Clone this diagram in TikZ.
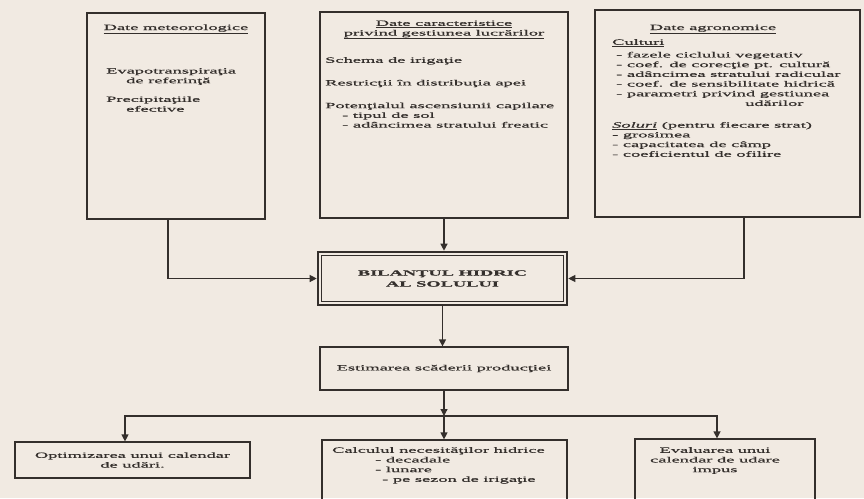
\documentclass[tikz,border=0pt]{standalone}
\usepackage{fontspec}
\setmainfont{Liberation Serif}[FakeStretch=2.3, FakeBold=0.7]
\usetikzlibrary{arrows.meta,positioning}

\definecolor{paper}{RGB}{241,234,226}
\definecolor{ink}{RGB}{52,47,44}

\begin{document}
\begin{tikzpicture}[
    x=1pt, y=-1pt,
    box/.style={draw=ink, line width=1.2pt, inner sep=0pt},
    txt/.style={inner sep=0pt, align=left},
    link/.style={draw=ink, line width=1.2pt},
    flow/.style={link, -{Triangle[length=7pt, width=7pt]}},
    every node/.style={color=ink, font=\fontsize{8}{9.7}\selectfont}
    ]

    % page
    \fill[paper] (0,0) rectangle (864,498);
    \useasboundingbox (0,0) rectangle (864,498);
    \clip (0,0) rectangle (864,498);

    % input data
    \node[box, minimum width=178pt, minimum height=206pt] (meteo) at (176,116) {};
    \node[box, minimum width=248pt, minimum height=206pt] (gest) at (444,115) {};
    \node[box, minimum width=265pt, minimum height=207pt] (agro) at (727.5,113.5) {};

    \node[anchor=base] (meteo title) at (176,30) {\underline{Date meteorologice}};
    \node[txt, anchor=north west] (meteo text) at (106,68) {Evapotranspiraţia\\\hspace{20pt}de referinţă\\[9pt]Precipitaţiile\\\hspace{20pt}efective};

    \node[anchor=north, align=center] (gest title) at (444,17) {\underline{Date caracteristice}\\\underline{privind gestiunea lucrărilor}};
    \node[txt, anchor=north west] (gest text) at (325,57) {Schema de irigaţie\\[13pt]Restricţii în distribuţia apei\\[13pt]Potenţialul ascensiunii capilare\\
      \hspace{17pt}- tipul de sol\\
      \hspace{17pt}- adâncimea stratului freatic};

    \node[anchor=base] (agro title) at (713,30) {\underline{Date agronomice}};
    \node[txt, anchor=north west] (agro text) at (612,39) {\underline{Culturi}\\[3pt]
      \hspace{4pt}- fazele ciclului vegetativ\\
      \hspace{4pt}- coef. de corecţie pt. cultură\\
      \hspace{4pt}- adâncimea stratului radicular\\
      \hspace{4pt}- coef. de sensibilitate hidrică\\
      \hspace{4pt}- parametri privind gestiunea\\
      \hspace{133pt}udărilor\\[12pt]
      \underline{\textit{Soluri}} (pentru fiecare strat)\\
      - grosimea\\
      - capacitatea de câmp\\
      - coeficientul de ofilire};

    % balance
    \node[box, line width=2.6pt, minimum width=249pt, minimum height=53pt, align=center,
      font=\fontsize{8}{11}\selectfont\bfseries] (bilant) at (442.5,278.5) {BILANŢUL HIDRIC\\AL SOLULUI};
    \draw[ink, line width=0.8pt] ([shift={(4.5pt,-4.5pt)}]bilant.north west) rectangle ([shift={(-4.5pt,4.5pt)}]bilant.south east);

    \node[box, minimum width=248pt, minimum height=43pt] (estim) at (444,368.5) {Estimarea scăderii producţiei};

    % results
    \node[box, minimum width=235pt, minimum height=36pt, align=center] (optim) at (132.5,460) {Optimizarea unui calendar\\de udări.};
    \node[box, minimum width=245pt, minimum height=70pt] (calcul) at (444.5,475) {};
    \node[txt, anchor=north west] (calcul text) at (332,447) {Calculul necesităţilor hidrice\\
      \hspace{43pt}- decadale\\
      \hspace{43pt}- lunare\\
      \hspace{50pt}- pe sezon de irigaţie};
    \node[box, minimum width=180pt, minimum height=71pt] (eval) at (725,474.5) {};
    \node[anchor=north, inner sep=0pt, align=center] (eval text) at (715,447) {Evaluarea unui\\calendar de udare\\impus};

    % arrows
    \coordinate (meteo out) at ([xshift=-8pt]meteo.south);
    \coordinate (agro out) at ([xshift=16.5pt]agro.south);
    \draw[flow] (meteo out) |- (bilant.west);
    \draw[flow] (gest.south) -- (gest.south |- bilant.north);
    \draw[flow] (agro out) |- (bilant.east);
    \draw[flow] (bilant.south) -- (bilant.south |- estim.north);

    \coordinate (split) at (444,416);
    \coordinate (optim in) at ([xshift=-7.5pt]optim.north);
    \coordinate (eval in) at ([xshift=-8pt]eval.north);
    \draw[flow] (estim.south) -- (split);
    \draw[flow] (split) -| (optim in);
    \draw[flow] (split) -| (eval in);
    \draw[flow] (split) -- (split |- calcul.north);

\end{tikzpicture}
\end{document}
